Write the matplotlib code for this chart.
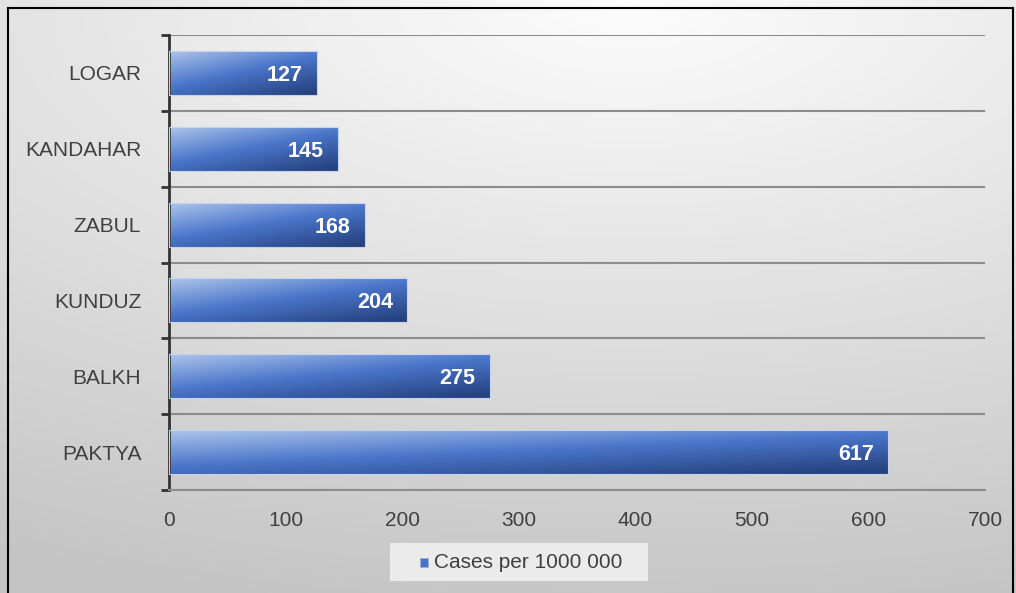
import matplotlib.pyplot as plt
import numpy as np
from matplotlib.patches import Rectangle

plt.rcParams['font.family'] = ['Liberation Sans', 'DejaVu Sans']

provinces = ['PAKTYA', 'BALKH', 'KUNDUZ', 'ZABUL', 'KANDAHAR', 'LOGAR']
cases = [617, 275, 204, 168, 145, 127]
xticks = [0, 100, 200, 300, 400, 500, 600, 700]
legend_label = 'Cases per 1000 000'

W, H = 1016, 593
fig = plt.figure(figsize=(W / 100, H / 100), dpi=100)

# background gradient: white-ish top centre, grey towards the bottom left
bg = fig.add_axes([0, 0, 1, 1], zorder=-10)
yy, xx = np.mgrid[0:1:200j, 0:1:300j]
d = np.sqrt((xx - 0.62) ** 2 * 0.6 + (yy - 1.0) ** 2)
shade = 0.99 - 0.22 * np.clip(d / 1.05, 0, 1)
bg.imshow(np.dstack([shade] * 3), extent=[0, 1, 0, 1], origin='lower', aspect='auto')
bg.set_axis_off()
# frame
bg.plot([8 / W, 8 / W], [0, 1 - 8 / H], color='black', lw=1.5)
bg.plot([8 / W, 1013 / W], [1 - 8 / H, 1 - 8 / H], color='black', lw=1.5)
bg.plot([1013 / W, 1013 / W], [0, 1 - 8 / H], color='black', lw=1.5)
bg.set_xlim(0, 1)
bg.set_ylim(0, 1)

ax = fig.add_axes([169 / W, 1 - 490 / H, (985 - 169) / W, (490 - 35) / H])
ax.patch.set_alpha(0)

ypos = np.arange(len(provinces))
bars = ax.barh(ypos, cases, height=0.58, color='none', edgecolor='#c5d3ec', lw=0.8, zorder=3)

light = np.array([0.68, 0.77, 0.92])
mid = np.array([0.29, 0.46, 0.79])
dark = np.array([0.15, 0.26, 0.50])
yv = np.linspace(0, 1, 60)[:, None]
for b in bars:
    x0, y0 = b.get_x(), b.get_y()
    w, h = b.get_width(), b.get_height()
    xv = np.linspace(0, 1, 200)[None, :]
    # light at top-left, dark at bottom-right (row 0 = top)
    tt = np.clip(0.6 * yv + 0.45 * xv, 0, 1)
    img = np.where(tt[..., None] < 0.5,
                   light + (mid - light) * (tt[..., None] / 0.5),
                   mid + (dark - mid) * ((tt[..., None] - 0.5) / 0.5))
    im = ax.imshow(img, extent=[x0, x0 + w, y0, y0 + h], origin='upper',
                   aspect='auto', zorder=2)
    im.set_clip_path(b)
    ax.text(x0 + w - 12, y0 + h / 2, str(int(w)), ha='right', va='center_baseline',
            color='white', fontsize=15.5, fontweight='bold', zorder=4)

ax.set_xlim(0, 700)
ax.set_ylim(-0.5, len(provinces) - 0.5)
ax.set_xticks(xticks)
ax.set_xticklabels([str(v) for v in xticks])
ax.set_yticks(ypos)
ax.set_yticklabels(provinces)
ax.set_yticks(np.arange(-0.5, len(provinces), 1), minor=True)
ax.tick_params(axis='y', which='major', length=0, pad=20, labelsize=15, labelcolor='#404040')
ax.tick_params(axis='y', which='minor', length=6, width=2, color='#333333')
ax.tick_params(axis='x', length=0, pad=15, labelsize=15, labelcolor='#404040')
ax.grid(True, axis='y', which='minor', color='#8c8c8c', lw=1.5, zorder=1)
for s in ['top', 'right']:
    ax.spines[s].set_visible(False)
ax.spines['bottom'].set_color('#8c8c8c')
ax.spines['bottom'].set_linewidth(1.5)
ax.spines['left'].set_color('#333333')
ax.spines['left'].set_linewidth(2)

# legend box
bg.add_patch(Rectangle((390 / W, 1 - 581 / H), (648 - 390) / W, 38 / H,
                       facecolor='#ebebeb', edgecolor='none', zorder=2))
bg.add_patch(Rectangle((420 / W, 1 - 567 / H), 8 / W, 9 / H,
                       facecolor='#4472c4', edgecolor='#9bb0d8', lw=0.5, zorder=3))
bg.text(434 / W, 1 - 562 / H, legend_label, ha='left', va='center',
        fontsize=15, color='#404040', zorder=3)

fig.savefig('out.png', dpi=100)
